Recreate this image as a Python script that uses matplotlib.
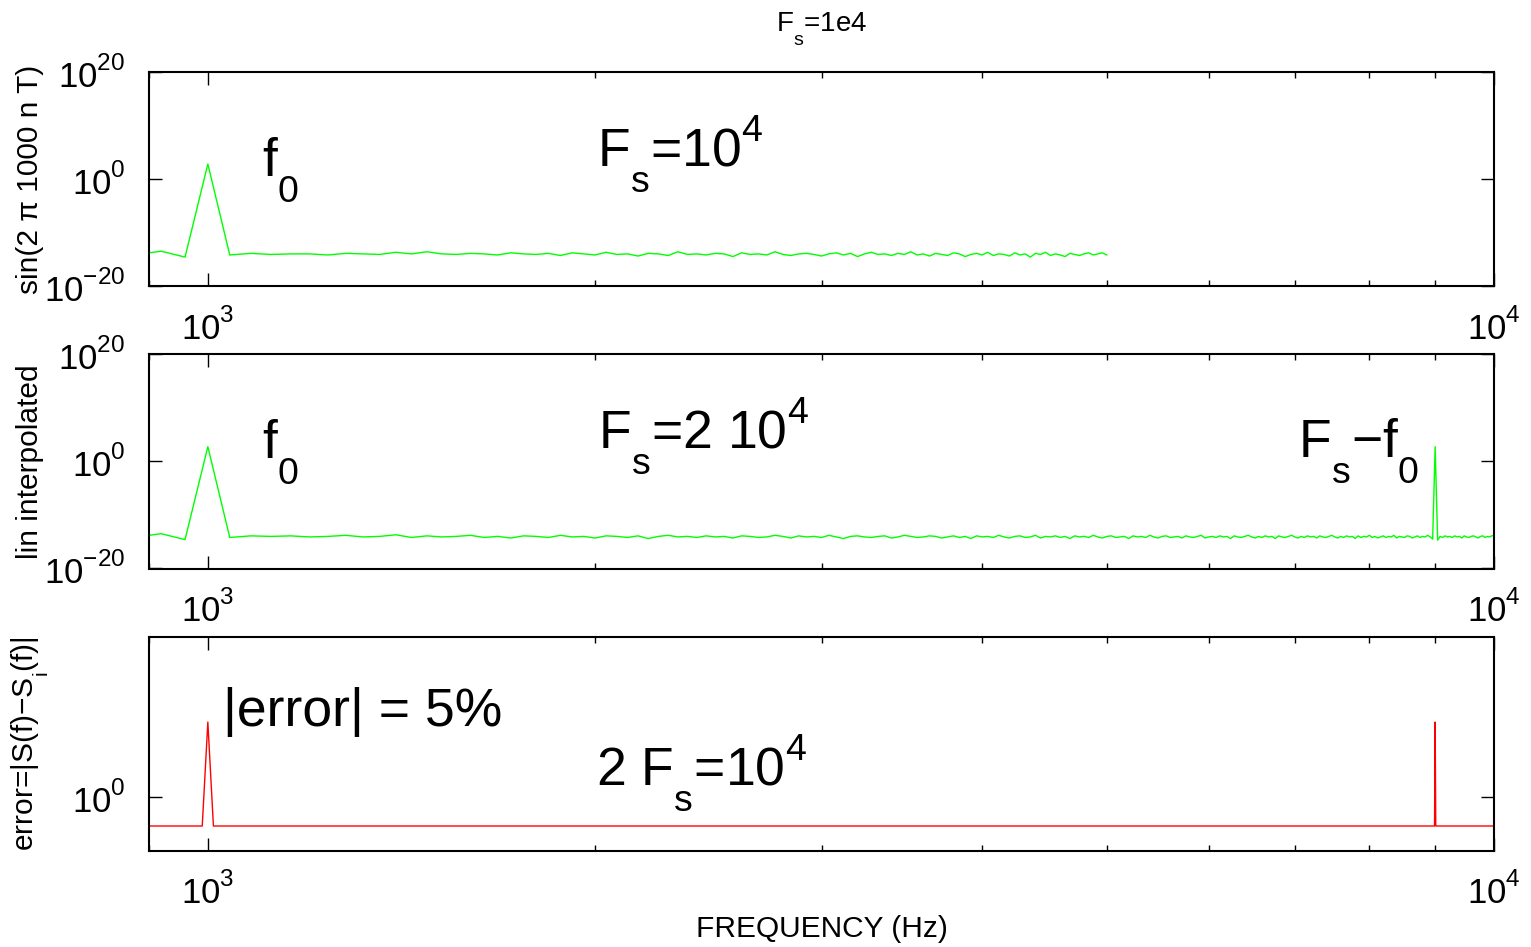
import numpy as np
import matplotlib
matplotlib.use('Agg')
import matplotlib.pyplot as plt
import matplotlib._mathtext as mt
from matplotlib.ticker import LogLocator, NullLocator, NullFormatter, FixedLocator

plt.rcParams['font.family'] = ['Liberation Sans', 'DejaVu Sans']
plt.rcParams['mathtext.fontset'] = 'custom'
plt.rcParams['mathtext.rm'] = 'Liberation Sans'
plt.rcParams['mathtext.it'] = 'Liberation Sans'
plt.rcParams['mathtext.bf'] = 'Liberation Sans:bold'

# matlab puts sub/superscripts further from the baseline
mt.FontConstantsBase.sub1 = 0.95
mt.FontConstantsBase.sup1 = 0.9

# frequency bins (40 Hz spacing) of the two spectra
df = 40
freq_s = np.arange(880, 5001, df)    # sampled at Fs=1e4, up to Fs/2
freq_i = np.arange(880, 10001, df)   # lin interpolated to 2e4, up to 1e4

# log10 of the spectrum magnitude
spec_s_exp = [
    -14.1, -13.5, -14.6, 2.80, -14.2, -13.9, -14.1, -14.0, -14.0, -14.2,
    -13.9, -14.0, -14.1, -13.7, -14.0, -13.6, -14.0, -14.1, -13.9, -14.0,
    -14.2, -13.8, -14.0, -14.1, -13.9, -14.3, -13.8, -14.0, -14.2, -13.7,
    -14.1, -14.0, -14.4, -13.9, -14.0, -14.3, -13.6, -14.1, -14.0, -14.2,
    -13.9, -14.0, -14.5, -13.8, -14.1, -14.0, -14.2, -13.6, -14.1, -14.3,
    -14.0, -13.9, -14.1, -14.4, -14.0, -13.8, -14.2, -13.9, -14.5, -14.0,
    -13.7, -14.1, -14.0, -14.3, -13.9, -14.1, -13.6, -14.2, -14.0, -14.4,
    -13.9, -14.1, -14.3, -13.8, -14.0, -14.5, -14.1, -13.9, -14.2, -13.7,
    -14.3, -14.0, -14.1, -14.4, -13.8, -14.2, -14.0, -14.6, -13.9, -14.1,
    -13.7, -14.3, -14.0, -14.2, -14.5, -13.9, -14.1, -14.3, -14.0, -13.8,
    -14.2, -14.0, -13.8, -14.2,
]

spec_i_exp = [
    -14.1, -13.5, -14.6, 2.77, -14.2, -13.9, -14.0, -13.9, -14.1, -14.0,
    -13.8, -14.1, -14.0, -13.7, -14.2, -13.9, -14.1, -14.0, -13.8, -14.2,
    -14.0, -14.3, -13.9, -14.0, -14.2, -13.8, -14.1, -14.0, -14.3, -13.9,
    -14.0, -14.2, -13.9, -14.4, -14.0, -13.8, -14.1, -14.0, -14.2, -13.9,
    -14.1, -14.0, -14.3, -13.9, -14.0, -14.2, -14.1, -13.8, -14.0, -14.3,
    -13.9, -14.1, -14.0, -14.2, -13.8, -14.1, -14.4, -14.0, -13.9, -14.1,
    -14.2, -14.0, -13.9, -14.3, -14.1, -13.8, -14.0, -14.2, -14.1, -13.9,
    -14.0, -14.3, -14.1, -13.9, -14.2, -14.0, -14.4, -13.9, -14.1, -14.0,
    -14.2, -13.8, -14.1, -14.3, -14.0, -13.9, -14.2, -14.1, -13.8, -14.3,
    -14.0, -14.1, -13.9, -14.2, -14.0, -14.4, -13.9, -14.1, -14.0, -14.2,
    -13.8, -14.1, -14.3, -14.0, -13.9, -14.2, -14.1, -14.0, -14.4, -13.9,
    -14.1, -14.0, -14.2, -13.8, -14.1, -14.3, -14.0, -13.9, -14.2, -14.1,
    -14.0, -14.3, -13.9, -14.1, -14.2, -14.0, -13.8, -14.3, -14.1, -14.0,
    -14.2, -13.9, -14.1, -14.0, -14.4, -13.9, -14.1, -14.2, -14.0, -13.8,
    -14.1, -14.3, -14.0, -14.2, -13.9, -14.1, -14.0, -14.4, -13.9, -14.1,
    -14.2, -14.0, -13.8, -14.1, -14.3, -14.0, -14.2, -13.9, -14.1, -14.0,
    -14.3, -13.9, -14.1, -14.2, -14.0, -13.8, -14.1, -14.3, -14.0, -14.2,
    -13.9, -14.1, -14.0, -14.4, -13.9, -14.2, -14.0, -14.1, -13.8, -14.2,
    -14.0, -14.3, -14.1, -13.9, -14.2, -14.0, -14.1, -13.8, -14.3, -14.0,
    -14.1, -14.2, -13.9, -14.0, -14.3, -14.1, -13.9, -14.2, -14.0, -14.1,
    -13.8, -14.1, -14.5, 2.77, -14.7, -14.0, -14.2, -13.9, -14.1, -14.0,
    -14.2, -13.9, -14.1, -14.0, -14.3, -13.9, -14.1, -14.2, -14.0, -13.9,
    -14.1, -14.3, -14.0, -13.9, -14.2, -14.0, -14.1, -13.9, -13.8,
]

# error between the two spectra
err_freq = [900, 990, 1000, 1010, 8990, 9000, 9010, 10000]
err_val = [0.732, 0.732, 2.24, 0.732, 0.732, 2.24, 0.732, 0.732]

spec_s = 10.0 ** np.array(spec_s_exp)
spec_i = 10.0 ** np.array(spec_i_exp)

W, H = 1531, 947
fig = plt.figure(figsize=(W / 100, H / 100), dpi=100)

left = 149 / W
width = 1345 / W
height = 214 / H
bottoms = [1 - 286 / H, 1 - 568.5 / H, 1 - 850.5 / H]
axs = [fig.add_axes([left, b, width, height]) for b in bottoms]

fs_lab = 21.5
fs_tick = 25
fs_big = 38.5


def set_ax(ax):
    ax.set_xscale('log')
    ax.set_yscale('log')
    ax.set_xlim(900, 10000)
    ax.xaxis.set_major_locator(FixedLocator([1e3, 1e4]))
    ax.xaxis.set_minor_locator(LogLocator(base=10, subs=np.arange(2, 10)))
    ax.xaxis.set_minor_formatter(NullFormatter())
    ax.yaxis.set_minor_locator(NullLocator())
    for sp in ax.spines.values():
        sp.set_linewidth(1.5)
    ax.tick_params(axis='both', which='major', direction='in', top=True, right=True,
                   length=9.5, width=1.0, labelsize=fs_tick)
    ax.tick_params(axis='both', which='minor', direction='in', top=True, right=True,
                   length=4.5, width=1.0)
    ax.tick_params(axis='x', pad=16)
    ax.tick_params(axis='y', pad=17)


# top: sampled at Fs=1e4
ax = axs[0]
ax.plot(freq_s, spec_s, color=(0, 1, 0), lw=1.0, clip_on=True)
set_ax(ax)
ax.set_ylim(1e-20, 1e20)
ax.yaxis.set_major_locator(FixedLocator([1e-20, 1e0, 1e20]))
ax.set_ylabel('sin(2 π 1000 n T)', fontsize=fs_lab, va='center')
ax.set_title('F$_{\\rm s}$=1e4', fontsize=20, pad=29)
ax.text(0.0841, 0.519, 'f$_{\\rm 0}$', transform=ax.transAxes, fontsize=fs_big,
        ha='left', va='baseline')
ax.text(0.3333, 0.561, 'F$_{\\rm s}$=10$^{\\rm 4}$', transform=ax.transAxes,
        fontsize=fs_big, ha='left', va='baseline')

# middle: linear interpolated to 2e4
ax = axs[1]
ax.plot(freq_i, spec_i, color=(0, 1, 0), lw=1.0)
set_ax(ax)
ax.set_ylim(1e-20, 1e20)
ax.yaxis.set_major_locator(FixedLocator([1e-20, 1e0, 1e20]))
ax.set_ylabel('lin interpolated', fontsize=fs_lab, va='center')
ax.text(0.0841, 0.521, 'f$_{\\rm 0}$', transform=ax.transAxes, fontsize=fs_big,
        ha='left', va='baseline')
ax.text(0.3341, 0.562, 'F$_{\\rm s}$=2 10$^{\\rm 4}$', transform=ax.transAxes,
        fontsize=fs_big, ha='left', va='baseline')
ax.text(0.8545, 0.522, 'F$_{\\rm s}$\u2212f$_{\\rm 0}$', transform=ax.transAxes,
        fontsize=fs_big, ha='left', va='baseline')

# bottom: error
ax = axs[2]
ax.plot(err_freq, err_val, color=(1, 0, 0), lw=1.0)
set_ax(ax)
ax.set_ylim(10 ** -0.25, 10 ** 0.75)
ax.yaxis.set_major_locator(FixedLocator([1.0]))
ax.set_ylabel('error=|S(f)\u2212S$_{\\rm i}$(f)|', fontsize=fs_lab, va='center')
ax.set_xlabel('FREQUENCY (Hz)', fontsize=fs_lab, va='baseline')
ax.xaxis.set_label_coords(0.5, -0.403)
ax.text(0.0551, 0.582, '|error| = 5%', transform=ax.transAxes, fontsize=fs_big,
        ha='left', va='baseline')
ax.text(0.3326, 0.306, '2 F$_{\\rm s}$=10$^{\\rm 4}$', transform=ax.transAxes,
        fontsize=fs_big, ha='left', va='baseline')

for ax in axs:
    ax.yaxis.set_label_coords(-0.0885, 0.5)

fig.savefig('out.png', dpi=100)
plt.close(fig)
